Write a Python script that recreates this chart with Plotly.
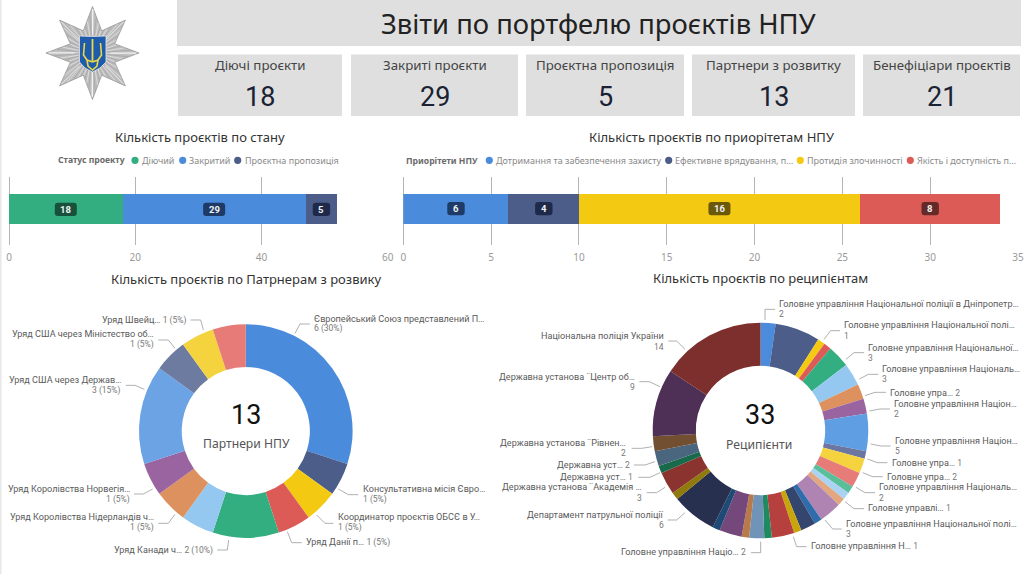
import math
import plotly.graph_objects as go

# ---------- data ----------
page_title = "Звіти по портфелю проєктів НПУ"
kpi_names = ["Діючі проєкти", "Закриті проєкти", "Проєктна пропозиція", "Партнери з розвитку", "Бенефіціари проєктів"]
kpi_values = [18, 29, 5, 13, 21]

status_names = ["Діючий", "Закритий", "Проєктна пропозиція"]
status_values = [18, 29, 5]
priority_names = ["Дотримання та забезпечення захисту", "Ефективне врядування, п…", "Протидія злочинності", "Якість і доступність п…"]
priority_values = [6, 4, 16, 8]

partner_names = ["Європейський Союз представлений П…", "Консультативна місія Євро…", "Координатор проєктів ОБСЄ в У…",
                 "Уряд Данії п…", "Уряд Канади ч…", "", "Уряд Королівства Нідерландів ч…",
                 "Уряд Королівства Норвегія…", "Уряд США через Держав…", "Уряд США через Міністество об…",
                 "Уряд Швейц…", ""]
partner_values = [6, 1, 1, 1, 2, 1, 1, 1, 3, 1, 1, 1]

G = "Головне управління "
recipient_names = [G + "Національної поліції в Дніпропетр…", "", G + "Національної полі…", "",
                   G + "Національної…", G + "Національ…", "Головне упра…", G + "Націон…",
                   G + "Націон…", "Головне упра…", "Головне упра…", G + "Національ…",
                   "", "Головне управлі…", "", G + "Національної полі…",
                   "", "", "Головне управління Н…", "", "", "Головне управління Націо…",
                   "", "", "", "Департамент патрульної поліції", "",
                   "Державна установа ¨Академія …", "Державна уст…", "Державна уст…",
                   "Державна установа ¨Рівнен…", "Державна установа ¨Центр об…", "Національна поліція України"]
recipient_values = [2, 6, 1, 1, 3, 3, 2, 2, 5, 1, 2, 2, 1, 1, 1, 3, 1, 2, 1, 3, 1, 2, 1, 3, 1, 6, 1, 3, 1, 2, 2, 9, 14]

# ---------- styles ----------
W, H = 1024, 574
TXT = "Noto Sans"
NUM = "Roboto"
BOX = "#dfdfdf"
C_STATUS = ["#33AE81", "#4A8BDC", "#4C5D8A"]
B_STATUS = ["#17513C", "#1E3A66", "#1F2A4A"]
C_PRIO = ["#4A8BDC", "#4C5D8A", "#F3C911", "#DC5B57"]
B_PRIO = ["#1E3A66", "#1F2A4A", "#6B5808", "#642A28"]
C_PART = ["#4A8BDC", "#4C5D8A", "#F3C911", "#DC5B57", "#33AE81", "#95C8F0", "#DD915F", "#9A64A0",
          "#6BA3E4", "#6E7BA1", "#F5D33F", "#E67B78"]
C_REC = ["#4A8BDC", "#4C5D8A", "#F3C911", "#DC5B57", "#33AE81", "#95C8F0", "#DD915F", "#9A64A0",
         "#5F9EE3", "#6B77A0", "#F5D33F", "#E67B78", "#5BBE9A", "#AAD3F3", "#E3A77F", "#AF84B3",
         "#2F6CAB", "#34466E", "#C9A50C", "#B5403D", "#1F8A5F", "#7094B8", "#B87A4A", "#74487B",
         "#1F4A75", "#27304F", "#8F7A0C", "#8A332F", "#176B4A", "#4A667F", "#734F31", "#4E2F55", "#7C2F2C"]


def px(x):
    return x / W


def py(y):
    return 1 - y / H


shapes = []
ann = []


def rect(x0, y0, x1, y1, color):
    shapes.append(dict(type="rect", xref="paper", yref="paper", x0=px(x0), x1=px(x1), y0=py(y0), y1=py(y1),
                       fillcolor=color, line_width=0, layer="below"))


def text(x, y, s, size, color="#333", font=TXT, anchor="center"):
    ann.append(dict(x=px(x), y=py(y), xref="paper", yref="paper", text=s, showarrow=False, xanchor=anchor,
                    yanchor="middle", borderpad=0, font=dict(family=font, size=size, color=color)))


def path(points, color, width=0.8, fill=None, close=False, layer="above"):
    d = "M " + " L ".join(f"{px(a):.5f} {py(b):.5f}" for a, b in points) + (" Z" if close else "")
    shapes.append(dict(type="path", xref="paper", yref="paper", path=d, layer=layer,
                       line=dict(color=color, width=width), fillcolor=fill))


# ---------- page furniture ----------
rect(0, 0, 1.5, 574, "#e8e8e8")
rect(177, 0, 1021, 46, BOX)
text(598.5, 24, page_title, 27.4, "#222")
BOXES = [(178, 342), (351, 518), (526, 684), (692, 855), (863, 1020)]
for (a, b), n, v in zip(BOXES, kpi_names, kpi_values):
    rect(a, 54.5, b, 116, BOX)
    text((a + b) / 2, 64.5, n, 13.3, "#444")
    text((a + b) / 2, 96.5, str(v), 27, "#1a2233", NUM)

text(199.5, 136.5, "Кількість проєктів по стану", 13, "#333")
text(711.5, 136.5, "Кількість проєктів по приорітетам НПУ", 13, "#333")
text(246, 279, "Кількість проєктів по Патрнерам з розвику", 13, "#333")
text(760, 278, "Кількість проєктів по реципієнтам", 13, "#333")

# ---------- logo ----------
LCX, LCY, LR, Lr = 92.5, 53, 46.5, 24
star = []
for i in range(16):
    a = math.radians(i * 22.5)
    rad = LR if i % 2 == 0 else Lr
    star.append((LCX + rad * math.sin(a), LCY - rad * math.cos(a)))
path(star, "#8f8f8f", 0.7, "#bdbdbd", True)
half = math.radians(22.5)


def star_rad(t):
    t = abs(((t + half) % (2 * half)) - half)
    return LR * Lr * math.sin(half) / (Lr * math.sin(half) * math.cos(t) + (LR - Lr * math.cos(half)) * math.sin(t))


for step, col, w in ((0, "#eeeeee", 0.6), (1, "#9b9b9b", 0.5)):
    d = ""
    for i in range(72):
        if i % 2 != step:
            continue
        a = math.radians(i * 5 + 1)
        rr = star_rad(a) - 1
        d += (f"M {px(LCX + 14 * math.sin(a)):.5f} {py(LCY - 14 * math.cos(a)):.5f} "
              f"L {px(LCX + rr * math.sin(a)):.5f} {py(LCY - rr * math.cos(a)):.5f} ")
    shapes.append(dict(type="path", xref="paper", yref="paper", path=d, line=dict(color=col, width=w)))
for i in range(8):
    a = math.radians(i * 45)
    path([(LCX + 18 * math.sin(a), LCY - 18 * math.cos(a)), (LCX + 44 * math.sin(a), LCY - 44 * math.cos(a))],
         "#f7f7f7", 0.9)
path([(79.5, 36), (92.5, 36.5), (106, 36), (106, 62), (100, 68), (92.5, 72), (85, 68), (79.5, 62)],
     "#e6e6e6", 0.8, "#1E5BAA", True)
GOLD = "#E9D64B"
path([(92.5, 39), (92.5, 62)], GOLD, 1.8)
path([(84.5, 43), (83.5, 55), (87, 60), (92.5, 62)], GOLD, 1.6)
path([(100.5, 43), (101.5, 55), (98, 60), (92.5, 62)], GOLD, 1.6)
path([(87, 60), (88, 66), (92.5, 70), (97, 66), (98, 60)], GOLD, 1.6)

# ---------- stacked bars ----------
fig = go.Figure()
BAR_SETS = [("x", "y", status_names, status_values, C_STATUS, B_STATUS),
            ("x2", "y2", priority_names, priority_values, C_PRIO, B_PRIO)]
for xa, ya, names, vals, cols, badges in BAR_SETS:
    cum = 0
    for n, v, c, b in zip(names, vals, cols, badges):
        fig.add_trace(go.Bar(x=[v], y=[0], name=n, orientation="h", width=1, xaxis=xa, yaxis=ya,
                             marker=dict(color=c, line_width=0), showlegend=False))
        mid = cum + v / 2
        hw = 11 if v >= 10 else 8.7
        hh, k = 6.6, 3
        badge = (f"M {-hw + k} {-hh} L {hw - k} {-hh} Q {hw} {-hh} {hw} {-hh + k} L {hw} {hh - k} "
                 f"Q {hw} {hh} {hw - k} {hh} L {-hw + k} {hh} Q {-hw} {hh} {-hw} {hh - k} "
                 f"L {-hw} {-hh + k} Q {-hw} {-hh} {-hw + k} {-hh} Z")
        shapes.append(dict(type="path", xref=xa, yref=ya, xsizemode="pixel", ysizemode="pixel", xanchor=mid,
                           yanchor=0, path=badge, fillcolor=b, line_width=0, layer="above"))
        ann.append(dict(x=mid, y=0, xref=xa, yref=ya, text=f"<b>{v}</b>", showarrow=False, borderpad=0,
                        font=dict(family=NUM, size=9.5, color="#f2f2f2")))
        cum += v

# bar legends
LEG1 = [(135, 141), (182.7, 188.3), (237.7, 243.7)]
text(56.7, 160.3, "<b>Статус проекту</b>", 8.6, "#6b6b6b", anchor="left")
for (d, t), n, c in zip(LEG1, status_names, C_STATUS):
    shapes.append(dict(type="circle", xref="paper", yref="paper", x0=px(d - 3.6), x1=px(d + 3.6), y0=py(160.3 + 3.6),
                       y1=py(160.3 - 3.6), fillcolor=c, line_width=0))
    text(t, 160.3, n, 9.0, "#8a8a8a", anchor="left")
LEG2 = [(489.3, 495), (668.7, 674.3), (800.3, 806), (910.3, 916)]
text(405, 160.5, "<b>Приорітети НПУ</b>", 8.6, "#6b6b6b", anchor="left")
for (d, t), n, c in zip(LEG2, priority_names, C_PRIO):
    shapes.append(dict(type="circle", xref="paper", yref="paper", x0=px(d - 3.6), x1=px(d + 3.6), y0=py(160.3 + 3.6),
                       y1=py(160.3 - 3.6), fillcolor=c, line_width=0))
    text(t, 160.3, n, 9.0, "#8a8a8a", anchor="left")

# ---------- donuts ----------
DONUTS = [(245.8, 431, 106.8, partner_values, C_PART), (760.5, 430.5, 107.8, recipient_values, C_REC)]
for cx, cy, r, vals, cols in DONUTS:
    fig.add_trace(go.Pie(labels=list(range(len(vals))), values=vals, sort=False, direction="clockwise", rotation=0,
                         hole=0.6, textinfo="none", showlegend=False, marker=dict(colors=cols, line_width=0),
                         domain=dict(x=[px(cx - r), px(cx + r)], y=[py(cy + r), py(cy - r)])))
text(246, 415, str(kpi_values[3]), 27, "#111", NUM)
text(246, 443.5, "Партнери НПУ", 12.2, "#555")
text(760, 415, "33", 27, "#111", NUM)
text(759, 444, "Реципієнти", 12.2, "#555")

LABEL = "#5a5a5a"
VAL = "#777777"
LABEL_SIZE = 9.1
VAL_SIZE = 8.5


def put_label(name, val, x, y1, y2, anchor):
    if y2 is None:
        text(x, y1, f"{name} <span style='color:{VAL};font-size:{VAL_SIZE}px'>{val}</span>", LABEL_SIZE, LABEL, NUM, anchor)
    else:
        text(x, y1, name, LABEL_SIZE, LABEL, NUM, anchor)
        text(x, y2, val, VAL_SIZE, VAL, NUM, anchor)


def leader(points, ox, oy):
    path([(ox + a / 3, oy + b / 3) for a, b in points], "#9c9c9c", 0.8)


# slice index: x, line-1 y, line-2 y, anchor, leader in 3x crop coordinates
PART_POS = {
    0: (313.3, 318.7, 328.7, "left", [(885, 160), (900, 132), (930, 132)]),
    1: (361.7, 488.7, 499, "left", [(1015, 627), (1045, 644), (1075, 644)]),
    2: (336.7, 517.3, 527.7, "left", [(950, 705), (975, 730), (1000, 730)]),
    3: (305, 542, None, "left", [(862, 755), (875, 788), (905, 788)]),
    4: (214.3, 550, None, "right", [(686, 780), (682, 810), (652, 810)]),
    6: (155, 517.3, 527.7, "right", [(525, 703), (505, 730), (475, 730)]),
    7: (130.7, 488.7, 499, "right", [(458, 627), (430, 642), (402, 642)]),
    8: (122.3, 380, 390, "right", [(433, 328), (405, 316), (377, 316)]),
    9: (155, 334.3, 345, "right", [(525, 205), (505, 180), (475, 180)]),
    10: (187.3, 320, None, "right", [(610, 150), (602, 120), (572, 120)]),
}
tot = sum(partner_values)
for i, (x, y1, y2, an, ld) in PART_POS.items():
    put_label(partner_names[i], f"{partner_values[i]} ({partner_values[i] / tot:.0%})", x, y1, y2, an)
    leader(ld, 0, 280)

REC_POS = {
    0: (777.7, 303.7, 314, "left", [(75, 120), (75, 88), (105, 88)], 740),
    2: (843.3, 325.3, 335.7, "left", [(252, 178), (272, 152), (300, 152)], 740),
    4: (867, 347.7, 358, "left", [(318, 238), (342, 218), (372, 218)], 740),
    5: (881.3, 369.3, 379.3, "left", [(358, 297), (385, 283), (415, 283)], 740),
    6: (889.3, 392.7, None, "left", [(375, 347), (405, 337), (438, 337)], 740),
    7: (893.3, 404, 414, "left", [(388, 393), (420, 387), (450, 387)], 740),
    8: (894.3, 440.7, 451, "left", [(392, 492), (422, 498), (452, 498)], 740),
    9: (891, 463, None, "left", [(382, 537), (412, 548), (442, 548)], 740),
    10: (886, 477.3, None, "left", [(368, 578), (398, 590), (428, 590)], 740),
    11: (878.3, 487.3, 497.7, "left", [(348, 622), (375, 638), (405, 638)], 740),
    13: (867, 508.3, None, "left", [(315, 665), (342, 686), (372, 686)], 740),
    15: (845, 524, 534.3, "left", [(255, 720), (278, 747), (305, 747)], 740),
    18: (810, 546, None, "left", [(160, 770), (170, 800), (200, 800)], 740),
    21: (747.3, 552, None, "right", [(812, 785), (812, 818), (783, 818)], 490),
    25: (665, 515, 525.3, "right", [(585, 698), (560, 720), (533, 720)], 490),
    27: (643.3, 487.3, 497.7, "right", [(525, 622), (500, 638), (470, 638)], 490),
    28: (634.3, 477.3, None, "right", [(510, 578), (480, 592), (445, 592)], 490),
    29: (631, 465, None, "right", [(495, 545), (465, 555), (432, 555)], 490),
    30: (627.3, 442.7, 453, "right", [(487, 500), (455, 505), (425, 505)], 490),
    31: (636, 376.7, 387, "right", [(510, 320), (478, 305), (448, 305)], 490),
    32: (665, 335.7, 346.7, "right", [(585, 208), (560, 183), (535, 183)], 490),
}
for i, (x, y1, y2, an, ld, ox) in REC_POS.items():
    put_label(recipient_names[i], str(recipient_values[i]), x, y1, y2, an)
    leader(ld, ox, 280)

# ---------- layout ----------
AX_TOP, AX_BOT = 177, 245
axis = dict(showgrid=True, gridcolor="#b4b4b4", gridwidth=1, zeroline=True, zerolinecolor="#b4b4b4", zerolinewidth=1,
            showline=False, ticks="outside", ticklen=3, tickcolor="rgba(0,0,0,0)",
            tickfont=dict(family=TXT, size=10, color="#9a9a9a"), fixedrange=True, automargin=False)
yax = dict(visible=False, fixedrange=True, automargin=False)
fig.update_layout(
    width=W, height=H, margin=dict(l=0, r=0, t=0, b=0), autosize=False, barmode="stack", bargap=0,
    paper_bgcolor="white", plot_bgcolor="rgba(0,0,0,0)",
    xaxis=dict(axis, domain=[px(9), px(387.7)], range=[0, 60], tickvals=[0, 20, 40, 60], anchor="y"),
    yaxis=dict(yax, domain=[py(AX_BOT), py(AX_TOP)], range=[-35.7 / 30, 32.3 / 30], anchor="x"),
    xaxis2=dict(axis, domain=[px(403.3), px(1018)], range=[0, 35], tickvals=[0, 5, 10, 15, 20, 25, 30, 35], anchor="y2"),
    yaxis2=dict(yax, domain=[py(AX_BOT), py(AX_TOP)], range=[-36.3 / 30, 31.7 / 30], anchor="x2"),
    shapes=shapes, annotations=ann, hovermode=False,
)
fig.write_html("out.html", config=dict(displayModeBar=False),
               post_script="document.body.style.margin='0';document.body.style.overflow='hidden';")
